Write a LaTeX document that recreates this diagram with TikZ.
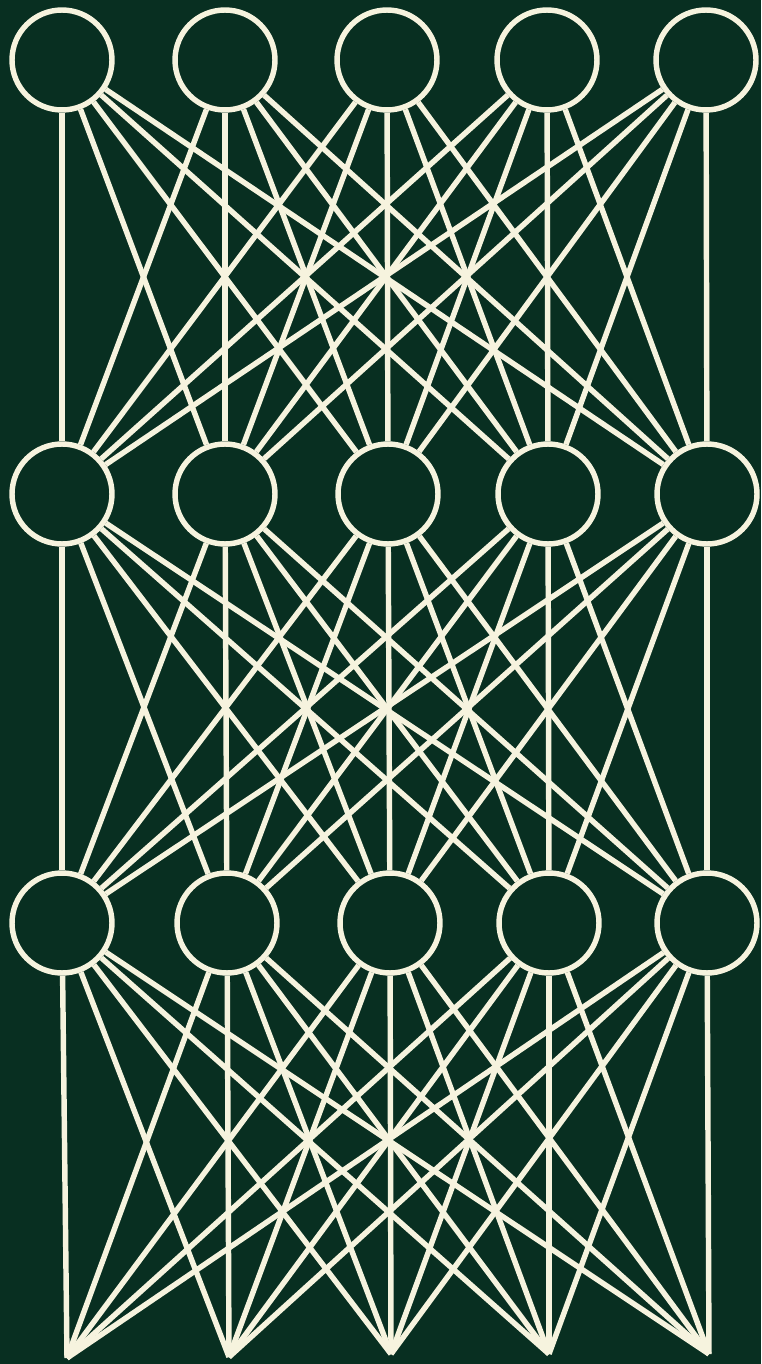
\documentclass[tikz,border=0pt]{standalone}
\begin{document}
\definecolor{bggreen}{RGB}{8,47,33}
\definecolor{cream}{RGB}{246,243,222}
\begin{tikzpicture}[x=0.02cm,y=-0.02cm,
  neuron/.style={circle,draw=cream,line width=3.1pt,minimum size=2cm,inner sep=0pt},
  link/.style={draw=cream,line width=3.1pt}]
\fill[bggreen] (0,0) rectangle (761,1364);
\useasboundingbox (0,0) rectangle (761,1364);
% row 1
\node[neuron] (a1) at (62,60) {};
\node[neuron] (a2) at (225,60) {};
\node[neuron] (a3) at (387,60) {};
\node[neuron] (a4) at (547,60) {};
\node[neuron] (a5) at (706,60) {};
% row 2
\node[neuron] (b1) at (62,494) {};
\node[neuron] (b2) at (225,494) {};
\node[neuron] (b3) at (388,494) {};
\node[neuron] (b4) at (548,494) {};
\node[neuron] (b5) at (707,494) {};
% row 3
\node[neuron] (c1) at (62,923) {};
\node[neuron] (c2) at (227,923) {};
\node[neuron] (c3) at (390,923) {};
\node[neuron] (c4) at (549,923) {};
\node[neuron] (c5) at (707,923) {};
% bottom points
\coordinate (d1) at (67,1358);
\coordinate (d2) at (229,1357);
\coordinate (d3) at (391,1354);
\coordinate (d4) at (549,1354);
\coordinate (d5) at (709,1354);
\foreach \i in {1,...,5}{
  \foreach \j in {1,...,5}{
    \draw[link] (a\i) -- (b\j);
    \draw[link] (b\i) -- (c\j);
    \draw[link] (c\i) -- (d\j);
  }
}
\end{tikzpicture}
\end{document}
